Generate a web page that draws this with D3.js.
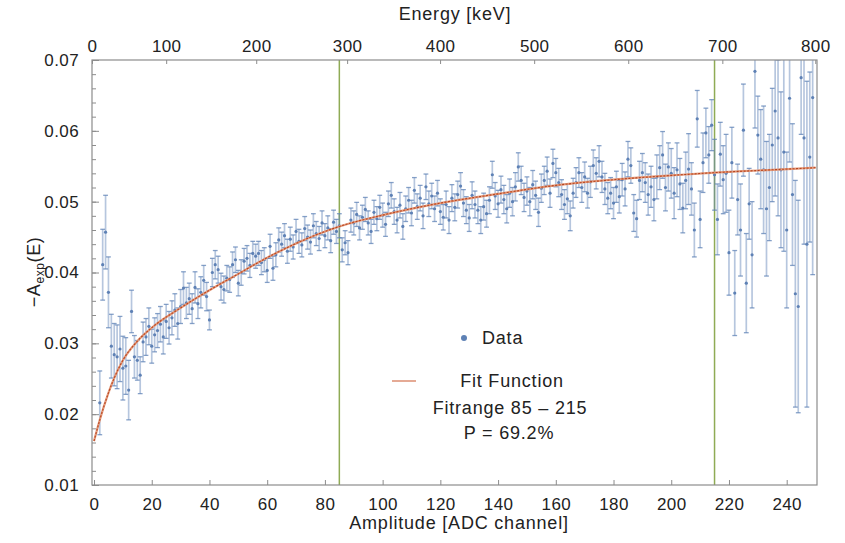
<!DOCTYPE html>
<html><head><meta charset="utf-8">
<script src="https://cdn.jsdelivr.net/npm/d3@7"></script>
<style>
body{margin:0;background:#fff}
text{font-family:"Liberation Sans",Arial,sans-serif;fill:#222}
</style>
</head><body>
<svg id="chart" width="845" height="543"></svg>
<script>
// ---------------- data ----------------
const firstChannel = 2; // channel of first value; one value per ADC channel
const values = [
.0216,.0411,.0457,.0372,.0296,.0284,.0281,.0292,.0265,.0268,
.0234,.0345,.0281,.0276,.0255,.0302,.0309,.0324,.0296,.0312,
.0318,.0327,.0309,.0331,.0322,.0336,.0347,.0328,.0352,.0378,
.0357,.0363,.0349,.0379,.0356,.0372,.0389,.0366,.0333,.0400,
.0411,.0404,.0380,.0376,.0392,.0390,.0411,.0418,.0385,.0400,
.0416,.0420,.0410,.0427,.0423,.0427,.0414,.0418,.0403,.0437,
.0406,.0425,.0446,.0440,.0452,.0430,.0447,.0436,.0458,.0444,
.0439,.0462,.0450,.0443,.0466,.0455,.0448,.0470,.0452,.0463,
.0445,.0471,.0458,.0466,.0432,.0442,.0428,.0474,.0470,.0482,
.0463,.0478,.0489,.0470,.0458,.0485,.0476,.0492,.0481,.0468,
.0497,.0509,.0486,.0474,.0495,.0465,.0490,.0502,.0484,.0516,
.0493,.0505,.0480,.0521,.0497,.0508,.0490,.0512,.0486,.0478,
.0496,.0474,.0505,.0492,.0510,.0522,.0498,.0488,.0477,.0509,
.0496,.0488,.0474,.0493,.0483,.0502,.0538,.0508,.0497,.0517,
.0503,.0490,.0512,.0500,.0521,.0549,.0530,.0506,.0515,.0500,
.0524,.0509,.0485,.0519,.0530,.0543,.0512,.0554,.0541,.0527,
.0510,.0496,.0504,.0480,.0512,.0527,.0541,.0520,.0535,.0512,
.0528,.0551,.0540,.0557,.0535,.0518,.0505,.0512,.0498,.0521,
.0507,.0531,.0518,.0560,.0551,.0484,.0476,.0530,.0541,.0527,
.0510,.0521,.0503,.0535,.0548,.0566,.0520,.0549,.0540,.0512,
.0545,.0525,.0491,.0530,.0546,.0518,.0460,.0617,.0475,.0555,
.0597,.0566,.0608,.0538,.0475,.0567,.0531,.0540,.0428,.0555,
.0371,.0503,.0460,.0601,.0385,.0497,.0425,.0684,.0594,.0560,
.0545,.0490,.0520,.0580,.0628,.0590,.0545,.0570,.0460,.0646,
.0510,.0370,.0352,.0675,.0590,.0440,.0563,.0647
];
const errors = [
.0045,.0050,.0052,.0050,.0045,.0044,.0045,.0046,.0045,.0040,
.0042,.0030,.0030,.0028,.0026,.0028,.0026,.0026,.0024,.0024,
.0024,.0025,.0024,.0024,.0023,.0024,.0023,.0022,.0024,.0023,
.0022,.0022,.0021,.0022,.0021,.0022,.0021,.0020,.0014,.0020,
.0020,.0019,.0019,.0019,.0018,.0018,.0018,.0018,.0018,.0018,
.0018,.0018,.0017,.0017,.0017,.0017,.0017,.0017,.0017,.0017,
.0017,.0017,.0017,.0017,.0017,.0017,.0017,.0017,.0017,.0017,
.0017,.0017,.0017,.0017,.0017,.0017,.0017,.0017,.0017,.0017,
.0017,.0017,.0017,.0017,.0017,.0017,.0017,.0017,.0017,.0017,
.0017,.0017,.0017,.0017,.0017,.0017,.0017,.0017,.0017,.0017,
.0018,.0018,.0018,.0018,.0018,.0018,.0018,.0018,.0018,.0018,
.0018,.0018,.0018,.0018,.0018,.0018,.0018,.0018,.0018,.0018,
.0019,.0019,.0019,.0019,.0019,.0019,.0019,.0019,.0019,.0019,
.0019,.0019,.0019,.0019,.0019,.0019,.0019,.0019,.0019,.0019,
.0020,.0020,.0020,.0020,.0020,.0020,.0020,.0020,.0020,.0020,
.0020,.0020,.0020,.0020,.0020,.0020,.0020,.0020,.0020,.0020,
.0021,.0021,.0021,.0021,.0021,.0021,.0021,.0021,.0021,.0021,
.0022,.0022,.0022,.0022,.0022,.0022,.0022,.0022,.0022,.0022,
.0023,.0023,.0024,.0025,.0025,.0026,.0026,.0027,.0027,.0028,
.0029,.0029,.0030,.0031,.0031,.0033,.0033,.0034,.0035,.0036,
.0038,.0036,.0035,.0040,.0050,.0037,.0038,.0040,.0040,.0042,
.0035,.0040,.0036,.0050,.0050,.0045,.0048,.0055,.0060,.0050,
.0060,.0050,.0065,.0065,.0070,.0050,.0075,.0080,.0055,.0070,
.0090,.0095,.0075,.0080,.0120,.0110,.0110,.0140,.0110,.0090,
.0100,.0160,.0150,.0080,.0150,.0230,.0120,.0250
];
const fitChannels = [0,2,5,7,10,15,20,30,40,50,60,70,85,100,120,140,160,180,200,215,230,250];
const fitValues   = [0.0162,0.0192,0.0230,0.0251,0.0276,0.0303,0.0322,0.0350,0.0375,0.0398,0.0421,0.0441,0.0465,0.0481,0.0498,0.0511,0.0523,0.0531,0.0537,0.0541,0.0544,0.0548];
const fitRange = [85, 215];
const xTickValues = [0,20,40,60,80,100,120,140,160,180,200,220,240];
const yTickValues = [0.01,0.02,0.03,0.04,0.05,0.06,0.07];
const energyTicks = [0,100,200,300,400,500,600,700,800];
const energyTickChannels = [-0.7,25.0,56.2,87.7,119.9,152.5,185.1,217.7,249.9]; // calibration
const xDomain = [-0.7, 250.5];
const yDomain = [0.01, 0.07];
const legendTexts = ["Data","Fit Function","Fitrange 85 \u2013 215","P = 69.2%"];

// ---------------- layout ----------------
const svg = d3.select("#chart");
const L = 92, R = 817, T = 60, B = 485;
const x = d3.scaleLinear().domain(xDomain).range([L, R]);
const y = d3.scaleLinear().domain(yDomain).range([B, T]);
const eScale = d3.scaleLinear().domain(energyTicks).range(energyTickChannels.map(x));

const frameColor = "#8c8c8c";
const blue = "#5e81b5";

svg.append("defs").append("clipPath").attr("id","clip")
  .append("rect").attr("x",L).attr("y",T).attr("width",R-L).attr("height",B-T);

// green fit-range lines
svg.append("g").selectAll("line").data(fitRange).join("line")
  .attr("x1",d=>x(d)).attr("x2",d=>x(d)).attr("y1",T).attr("y2",B)
  .attr("stroke","#8fab55").attr("stroke-width",1.5);

// data
const pts = values.map((v,i)=>({c:firstChannel+i, v, e:errors[i]}));
const dg = svg.append("g").attr("clip-path","url(#clip)");
dg.selectAll("line.bar").data(pts).join("line").attr("class","bar")
  .attr("x1",d=>x(d.c)).attr("x2",d=>x(d.c))
  .attr("y1",d=>y(d.v-d.e)).attr("y2",d=>y(d.v+d.e))
  .attr("stroke",blue).attr("stroke-opacity",0.45).attr("stroke-width",1.7);
["lo","hi"].forEach(k=>{
  dg.selectAll("line.cap"+k).data(pts).join("line").attr("class","cap"+k)
    .attr("x1",d=>x(d.c)-2.4).attr("x2",d=>x(d.c)+2.4)
    .attr("y1",d=>y(k==="lo"?d.v-d.e:d.v+d.e)).attr("y2",d=>y(k==="lo"?d.v-d.e:d.v+d.e))
    .attr("stroke",blue).attr("stroke-opacity",0.75).attr("stroke-width",1.3);
});
dg.selectAll("circle").data(pts).join("circle")
  .attr("cx",d=>x(d.c)).attr("cy",d=>y(d.v)).attr("r",1.6).attr("fill",blue);

// fit curve
const fitLine = d3.line().x(d=>x(d[0])).y(d=>y(d[1])).curve(d3.curveMonotoneX);
const fitData = fitChannels.map((c,i)=>[c,fitValues[i]]);
svg.append("path").datum(fitData).attr("d",fitLine).attr("clip-path","url(#clip)")
  .attr("fill","none").attr("stroke","#e39a7c").attr("stroke-width",2.2);
svg.append("path").datum(fitData).attr("d",fitLine).attr("clip-path","url(#clip)")
  .attr("fill","none").attr("stroke","#b8451f").attr("stroke-width",1.1).attr("stroke-dasharray","2,1.5");

// frame
svg.append("rect").attr("x",L).attr("y",T).attr("width",R-L).attr("height",B-T)
  .attr("fill","none").attr("stroke",frameColor).attr("stroke-width",1.2);

function styleAxis(g){
  g.select(".domain").remove();
  g.selectAll(".tick line").attr("stroke",frameColor);
  g.selectAll(".tick text").attr("font-size","17px").attr("letter-spacing","0.4px")
    .attr("fill","#222").attr("font-family","Liberation Sans, Arial, sans-serif");
}
// bottom
svg.append("g").attr("transform",`translate(0,${B})`)
  .call(d3.axisBottom(x).tickValues(xTickValues).tickSizeInner(-5).tickSizeOuter(0).tickPadding(13).tickFormat(d3.format("d")))
  .call(styleAxis);
// top
svg.append("g").attr("transform",`translate(0,${T})`)
  .call(d3.axisTop(eScale).tickValues(energyTicks).tickSizeInner(-4).tickSizeOuter(0).tickPadding(8).tickFormat(d3.format("d")))
  .call(styleAxis);
// left major
svg.append("g").attr("transform",`translate(${L},0)`)
  .call(d3.axisLeft(y).tickValues(yTickValues).tickSizeInner(-7).tickSizeOuter(0).tickPadding(13).tickFormat(d3.format(".2f")))
  .call(styleAxis);
// left minor
svg.append("g").attr("transform",`translate(${L},0)`)
  .call(d3.axisLeft(y).ticks(30).tickSizeInner(-4).tickSizeOuter(0).tickFormat(""))
  .call(g=>{g.select(".domain").remove();g.selectAll(".tick line").attr("stroke",frameColor);});

// titles
svg.append("text").attr("x",455).attr("y",20).attr("text-anchor","middle")
  .attr("font-size","18px").attr("letter-spacing","0.8px").text("Energy [keV]");
svg.append("text").attr("x",459).attr("y",529).attr("text-anchor","middle")
  .attr("font-size","18px").attr("letter-spacing","0.8px").text("Amplitude [ADC channel]");
const yl = svg.append("text").attr("transform","translate(40,272) rotate(-90)")
  .attr("text-anchor","middle").attr("font-size","18px").attr("letter-spacing","0.6px");
yl.append("tspan").text("\u2212A");
yl.append("tspan").attr("font-size","12px").attr("dy",4).text("exp");
yl.append("tspan").attr("dy",-4).text("(E)");

// legend
const lg = svg.append("g");
lg.append("circle").attr("cx",464).attr("cy",338).attr("r",3).attr("fill",blue);
lg.append("text").attr("x",482).attr("y",344).attr("font-size","18px").attr("letter-spacing","0.8px").text(legendTexts[0]);
lg.append("line").attr("x1",392).attr("x2",416).attr("y1",381).attr("y2",381)
  .attr("stroke","#dc8e72").attr("stroke-width",1.5);
lg.append("text").attr("x",512).attr("y",387).attr("text-anchor","middle").attr("font-size","18px").attr("letter-spacing","0.8px").text(legendTexts[1]);
lg.append("text").attr("x",510).attr("y",414).attr("text-anchor","middle").attr("font-size","18px").attr("letter-spacing","0.8px").text(legendTexts[2]);
lg.append("text").attr("x",509).attr("y",439).attr("text-anchor","middle").attr("font-size","18px").attr("letter-spacing","0.8px").text(legendTexts[3]);
</script>
</body></html>
